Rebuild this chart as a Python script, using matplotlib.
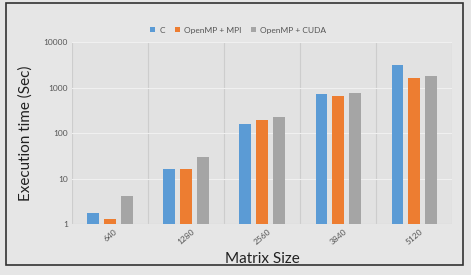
import numpy as np
import matplotlib.pyplot as plt
from matplotlib.patches import Rectangle
from matplotlib.ticker import FixedLocator, NullFormatter

sizes = ['640', '1280', '2560', '3840', '5120']
c_times = [1.75, 16.5, 158, 730, 3100]
mpi_times = [1.3, 16.5, 190, 660, 1600]
cuda_times = [4.1, 29.5, 225, 750, 1800]
series = ['C', 'OpenMP + MPI', 'OpenMP + CUDA']
colors = ['#5B9BD5', '#ED7D31', '#A5A5A5']

plt.rcParams['font.family'] = ['Lato', 'DejaVu Sans']

fig = plt.figure(figsize=(4.71, 2.75), dpi=100, facecolor='#e6e6e6')
ax = fig.add_axes([0.153, 0.185, 0.807, 0.662])
ax.set_facecolor('#e2e2e2')

x = np.arange(len(sizes))
w = 0.155
off = 0.22
for i, (vals, name, col) in enumerate(zip([c_times, mpi_times, cuda_times], series, colors)):
    ax.bar(x + (i - 1) * off, vals, width=w, color=col, label=name, zorder=3)

ax.set_yscale('log')
ax.set_ylim(1, 10000)
ax.set_xlim(-0.5, len(sizes) - 0.5)
ax.set_yticks([1, 10, 100, 1000, 10000])
ax.set_yticklabels(['1', '10', '100', '1000', '10000'])
ax.yaxis.set_minor_locator(FixedLocator([]))
ax.yaxis.set_minor_formatter(NullFormatter())
ax.set_xticks(x)
ax.set_xticklabels(sizes, rotation=40, ha='center')
ax.xaxis.set_minor_locator(FixedLocator(np.arange(-0.5, len(sizes), 1.0)))

ax.grid(True, which='major', axis='y', color='#f0f0f0', lw=0.8, zorder=0)
ax.grid(True, which='minor', axis='x', color='#cdcdcd', lw=0.8, zorder=0)
ax.tick_params(axis='both', which='both', length=0, labelsize=6, colors='#555555', pad=3)
for s in ax.spines.values():
    s.set_visible(False)
ax.axhline(1, color='#cfcfcf', lw=0.8, zorder=2)

ax.set_xlabel('Matrix Size', fontsize=11, color='#222222', labelpad=4)
ax.set_ylabel('Execution time (Sec)', fontsize=11, color='#222222', labelpad=8)

ax.legend(loc='lower center', bbox_to_anchor=(0.437, 1.0), ncol=3, frameon=False,
          fontsize=6, handlelength=0.6, handleheight=0.6, handletextpad=0.5,
          columnspacing=1.2, labelcolor='#555555', borderaxespad=0.6)

fig.patches.append(Rectangle((6 / 471, 1 - 265 / 275), 457 / 471, 262 / 275,
                             transform=fig.transFigure, fill=False,
                             edgecolor='#333333', lw=1.2))

fig.savefig('out.png', dpi=100, facecolor=fig.get_facecolor())
